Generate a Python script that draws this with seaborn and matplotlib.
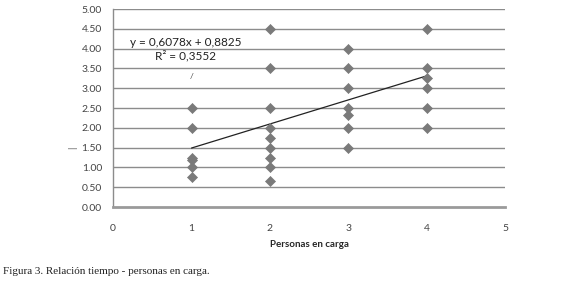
import matplotlib
matplotlib.use('Agg')
import matplotlib.pyplot as plt
import seaborn as sns
import pandas as pd

# datos
personas = [1, 1, 1, 1, 1, 1,
            2, 2, 2, 2, 2, 2, 2, 2, 2,
            3, 3, 3, 3, 3, 3, 3,
            4, 4, 4, 4, 4, 4]
tiempo = [2.50, 2.00, 1.25, 1.20, 1.00, 0.75,
          4.50, 3.50, 2.50, 2.00, 1.75, 1.50, 1.25, 1.00, 0.67,
          4.00, 3.50, 3.00, 2.50, 2.33, 2.00, 1.50,
          4.50, 3.50, 3.25, 3.00, 2.50, 2.00]
pendiente = 0.6078
intercepto = 0.8825
r2 = 0.3552
x_ticks = [0, 1, 2, 3, 4, 5]
y_ticks = [0, 0.5, 1, 1.5, 2, 2.5, 3, 3.5, 4, 4.5, 5]

df = pd.DataFrame({'personas': personas, 'tiempo': tiempo})
tend = pd.DataFrame({'x': [1, 4]})
tend['y'] = pendiente * tend['x'] + intercepto

sns.set_style('white')
plt.rcParams['font.family'] = ['Lato', 'DejaVu Sans']

fig = plt.figure(figsize=(5.8, 2.84), dpi=100)
ax = fig.add_axes([0.195, 0.271, 0.676, 0.697])

for yv in y_ticks[1:]:
    ax.axhline(yv, color='#8c8c8c', lw=1.0, zorder=0)

sns.scatterplot(data=df, x='personas', y='tiempo', marker='D', s=26,
                color='#7a7a7a', edgecolor='#7a7a7a', linewidth=0.5, ax=ax, zorder=3)
sns.lineplot(data=tend, x='x', y='y', color='#222222', lw=0.9, ax=ax, zorder=2)

ax.set_xlim(0, 5)
ax.set_ylim(0, 5)
ax.set_xticks(x_ticks)
ax.set_yticks(y_ticks)
ax.set_yticklabels([f'{v:.2f}' for v in y_ticks])
ax.tick_params(axis='both', labelsize=7.5, colors='#444444', length=0, pad=8)
ax.tick_params(axis='x', pad=12)

for s in ['top', 'right']:
    ax.spines[s].set_visible(False)
ax.spines['left'].set_color('#8c8c8c')
ax.spines['left'].set_linewidth(1.0)
ax.spines['bottom'].set_color('#9a9a9a')
ax.spines['bottom'].set_linewidth(2.0)

ax.set_xlabel('Personas en carga', fontsize=7, fontweight='bold', labelpad=5)
ax.set_ylabel('|', fontsize=7, color='#444444')
ax.yaxis.set_label_coords(-0.092, 0.30)

ax.text(0.22, 4.15, f'y = {pendiente:.4f}x + {intercepto:.4f}'.replace('.', ','),
        fontsize=8.5, color='#222222', ha='left', va='center')
ax.text(0.53, 3.82, f'R² = {r2:.4f}'.replace('.', ','),
        fontsize=8.5, color='#222222', ha='left', va='center')
ax.text(1.0, 3.3, '/', fontsize=6, color='#444444', ha='center', va='center')

fig.text(0.005, 0.045, 'Figura 3. Relación tiempo - personas en carga.',
         fontsize=8, family='Liberation Serif', color='#222222', ha='left', va='center')

fig.savefig('out.png', dpi=100)
